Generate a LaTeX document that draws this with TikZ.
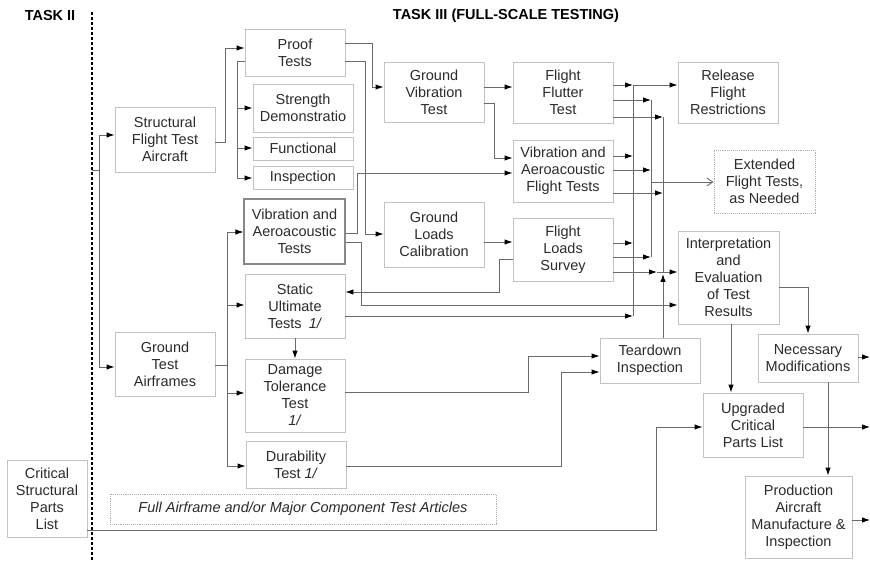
\documentclass[tikz,border=0pt]{standalone}
\usepackage{fontspec}
\setmainfont{Liberation Sans}
\usetikzlibrary{arrows.meta}
\definecolor{ln}{HTML}{6A6A6A}
\definecolor{bx}{HTML}{C2C2C2}
\definecolor{tx}{HTML}{2B2B2B}
\begin{document}
\begin{tikzpicture}[x=1pt,y=-1pt,
  font=\fontsize{14.5}{17}\selectfont,
  box/.style={draw=bx, line width=0.9pt, fill=white, text=tx, align=center, inner sep=0pt},
  dbox/.style={box, draw=ln!80, line width=1.1pt},
  dotbox/.style={box, draw=bx!90!black, densely dotted},
  conn/.style={draw=ln, line width=0.9pt},
  arr/.style={conn, -{Latex[length=8pt,width=5.5pt,color=black]}},
  openarr/.style={conn, -{Straight Barb[length=6pt,width=8pt]}},
  title/.style={text=black, font=\fontsize{14.5}{17}\selectfont\bfseries}]
\useasboundingbox (0,0) rectangle (870,561);

% titles and divider
\node[title] (t2lab) at (50,16) {TASK II};
\node[title] (t3lab) at (506,16) {TASK III (FULL-SCALE TESTING)};
\draw[black, line width=1.3pt, densely dashed] (92,12) -- (92,561);

% boxes
\node[box, minimum width=100pt, minimum height=65pt] (sfta) at (165,139.5) {Structural\\Flight Test\\Aircraft};
\node[box, minimum width=100pt, minimum height=64pt] (gta) at (165,364) {Ground\\Test\\Airframes};
\node[box, minimum width=80pt, minimum height=77pt] (cspl) at (47,498.5) {Critical\\Structural\\Parts\\List};
\node[box, minimum width=100pt, minimum height=47pt] (proof) at (295,52.5) {Proof\\Tests};
\node[box, minimum width=100pt, minimum height=48pt] (strength) at (303,108) {Strength\\Demonstratio};
\node[box, minimum width=100pt, minimum height=23pt] (functional) at (303,148.5) {Functional};
\node[box, minimum width=100pt, minimum height=23pt] (inspection) at (303,177.5) {Inspection};
\node[dbox, minimum width=101pt, minimum height=65pt] (vat) at (294.5,231.5) {Vibration and\\Aeroacoustic\\Tests};
\node[box, minimum width=100pt, minimum height=64pt] (static) at (295,306) {Static\\Ultimate\\Tests\enspace\textit{1/}};
\node[box, minimum width=100pt, minimum height=73pt] (damage) at (295,395.5) {Damage\\Tolerance\\Test\\\textit{1/}};
\node[box, minimum width=100pt, minimum height=47pt] (durab) at (296,464.5) {Durability\\Test \textit{1/}};
\node[dotbox, minimum width=386pt, minimum height=30pt] (full) at (303,509) {\itshape Full Airframe and/or Major Component Test Articles};
\node[box, minimum width=100pt, minimum height=60pt] (gvt) at (434,92) {Ground\\Vibration\\Test};
\node[box, minimum width=100pt, minimum height=65pt] (glc) at (434,234.5) {Ground\\Loads\\Calibration};
\node[box, minimum width=100pt, minimum height=61pt] (fft) at (563,92.5) {Flight\\Flutter\\Test};
\node[box, minimum width=100pt, minimum height=62pt] (vaf) at (563,171) {Vibration and\\Aeroacoustic\\Flight Tests};
\node[box, minimum width=100pt, minimum height=63pt] (fls) at (563,249.5) {Flight\\Loads\\Survey};
\node[box, minimum width=100pt, minimum height=61pt] (rfr) at (728,92.5) {Release\\Flight\\Restrictions};
\node[dotbox, minimum width=101pt, minimum height=63pt] (eft) at (764.5,181.5) {Extended\\Flight Tests,\\as Needed};
\node[box, minimum width=101pt, minimum height=93pt] (interp) at (728.5,277.5) {Interpretation\\and\\Evaluation\\of Test\\Results};
\node[box, minimum width=100pt, minimum height=45pt] (tear) at (650,360.5) {Teardown\\Inspection};
\node[box, minimum width=100pt, minimum height=48pt] (nec) at (808,358) {Necessary\\Modifications};
\node[box, minimum width=100pt, minimum height=64pt] (upg) at (753,425) {Upgraded\\Critical\\Parts List};
\node[box, minimum width=107pt, minimum height=82pt] (prod) at (798.5,517) {Production\\Aircraft\\Manufacture \&\\Inspection};

% free ends
\coordinate (t2) at (92,170);
\coordinate (o1) at (870,357);
\coordinate (o2) at (870,427);
\coordinate (o3) at (870,520);

% Task II trunk
\draw[conn] (t2) -- (99,170);
\draw[arr] (99,170) |- (sfta.west |- 0,135);
\draw[arr] (99,170) |- (gta.west |- 0,367);

% structural flight test aircraft branch
\draw[arr] (sfta.east |- 0,142) -- (225,142) |- (proof.west |- 0,48);
\draw[arr] (proof.west |- 0,61) -- (237,61) |- (inspection.west |- 0,178);
\draw[arr] (237,108) -- (strength.west |- 0,108);
\draw[arr] (237,148) -- (functional.west |- 0,148);
\draw[arr] (proof.east |- 0,43) -- (372,43) |- (gvt.west |- 0,87);
\draw[arr] (proof.east |- 0,61) -- (365,61) |- (glc.west |- 0,234);
\draw[arr] (gvt.east |- 0,87) -- (fft.west |- 0,87);
\draw[arr] (gvt.east |- 0,103) -- (494,103) |- (vaf.west |- 0,158);
\draw[arr] (glc.east |- 0,242) -- (fls.west |- 0,242);

% ground test airframes branch
\draw[conn] (gta.east |- 0,365) -- (227,365);
\draw[arr] (227,365) |- (vat.west |- 0,232);
\draw[arr] (227,365) |- (durab.west |- 0,466);
\draw[arr] (227,305) -- (static.west |- 0,305);
\draw[arr] (227,393) -- (damage.west |- 0,393);
\draw[arr] (static.south) -- (damage.north);
\draw[arr] (vat.east |- 0,233) -- (357,233) |- (vaf.west |- 0,173);
\draw[arr] (vat.east |- 0,242) -- (361,242) |- (interp.west |- 0,305);
\draw[arr] (fls.west |- 0,259) -- (499,259) |- (static.east |- 0,292);

% bus to release flight restrictions
\draw[arr] (fft.east |- 0,85) -- (633,85);
\draw[arr] (vaf.east |- 0,156) -- (633,156);
\draw[arr] (fls.east |- 0,243) -- (633,243);
\draw[arr] (static.east |- 0,316) -- (633,316);
\draw[arr] (633,316) |- (rfr.west |- 0,85);

% bus to extended flight tests
\draw[arr] (fft.east |- 0,100) -- (651,100);
\draw[arr] (vaf.east |- 0,170) -- (651,170);
\draw[arr] (fls.east |- 0,257) -- (651,257);
\draw[conn] (651,100) -- (651,257);
\draw[openarr] (651,182) -- (eft.west |- 0,182);

% bus to interpretation
\draw[arr] (fft.east |- 0,117) -- (663,117);
\draw[arr] (vaf.east |- 0,193) -- (663,193);
\draw[conn] (663,117) -- (663,272);
\draw[arr] (fls.east |- 0,272) -- (657,272);
\draw[arr] (657,272) -- (interp.west |- 0,272);
\draw[arr] (tear.north -| 663,0) -- (663,274);

% teardown inputs
\draw[arr] (damage.east |- 0,392) -- (528,392) |- (tear.west |- 0,356);
\draw[arr] (durab.east |- 0,466) -- (561,466) |- (tear.west |- 0,372);

% outputs of interpretation
\draw[arr] (interp.east |- 0,287) -| (nec.north);
\draw[arr] (interp.south -| 731,0) -- (upg.north -| 731,0);
\draw[arr] (nec.east |- 0,357) -- (o1);
\draw[arr] (nec.south -| 828,0) -- (prod.north -| 828,0);
\draw[arr] (upg.east |- 0,427) -- (o2);
\draw[arr] (prod.east |- 0,520) -- (o3);
\draw[arr] (cspl.east |- 0,530) -- (656,530) |- (upg.west |- 0,427);
\end{tikzpicture}
\end{document}
